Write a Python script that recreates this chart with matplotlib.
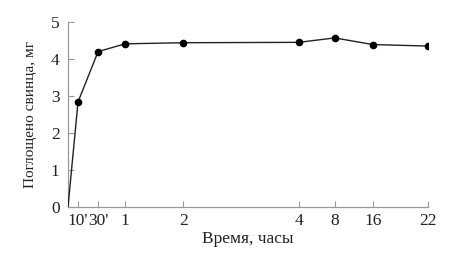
import numpy as np
import matplotlib
matplotlib.use("Agg")
import matplotlib.pyplot as plt

# Data (time in hours, absorbed lead in mg)
time_h = [0, 1/6, 0.5, 1, 2, 4, 8, 16, 22]
lead_mg = [0.0, 2.84, 4.20, 4.41, 4.44, 4.45, 4.57, 4.39, 4.35]

# Tick labels for the (non-uniform) time axis
tick_hours = [1/6, 0.5, 1, 2, 4, 8, 16, 22]
tick_labels = ["10'", "30'", "1", "2", "4", "8", "16", "22"]

# Piecewise axis scale: hours -> drawn position
scale_hours = [0, 1/6, 0.5, 1, 2, 4, 8, 16, 22]
scale_pos = [0, 10, 30, 57, 115, 230, 266, 304, 359]

def fwd(x):
    return np.interp(x, scale_hours, scale_pos)

def inv(y):
    return np.interp(y, scale_pos, scale_hours)

plt.rcParams['font.family'] = ['Liberation Serif', 'DejaVu Serif']

fig = plt.figure(figsize=(4.61, 2.56), dpi=100)
ax = fig.add_axes([68/461, 1 - 207/256, (428 - 68)/461, (207 - 22)/256])
ax.set_xscale('function', functions=(fwd, inv))

ax.plot(time_h, lead_mg, color='#222222', lw=1.0, zorder=3)
ax.plot(time_h[1:], lead_mg[1:], 'o', color='black', ms=4.5, zorder=4)

ax.set_xlim(0, 22)
ax.set_ylim(0, 5)
ax.set_xticks(tick_hours)
ax.set_xticklabels(tick_labels)
ax.set_yticks([0, 1, 2, 3, 4, 5])
ax.xaxis.set_minor_locator(matplotlib.ticker.NullLocator())

for s in ['top', 'right']:
    ax.spines[s].set_visible(False)
for s in ['left', 'bottom']:
    ax.spines[s].set_color('#999999')
    ax.spines[s].set_linewidth(0.9)

ax.tick_params(axis='both', direction='in', length=4, width=0.8, color='#999999',
               labelsize=12.5, labelcolor='#222222')
ax.tick_params(axis='x', pad=4)
ax.tick_params(axis='y', pad=6)

ax.set_xlabel('Время, часы', fontsize=12.5, color='#222222', labelpad=2)
ax.set_ylabel('Поглощено свинца, мг', fontsize=11, color='#222222', labelpad=10)

fig.savefig('out.png', dpi=100)
